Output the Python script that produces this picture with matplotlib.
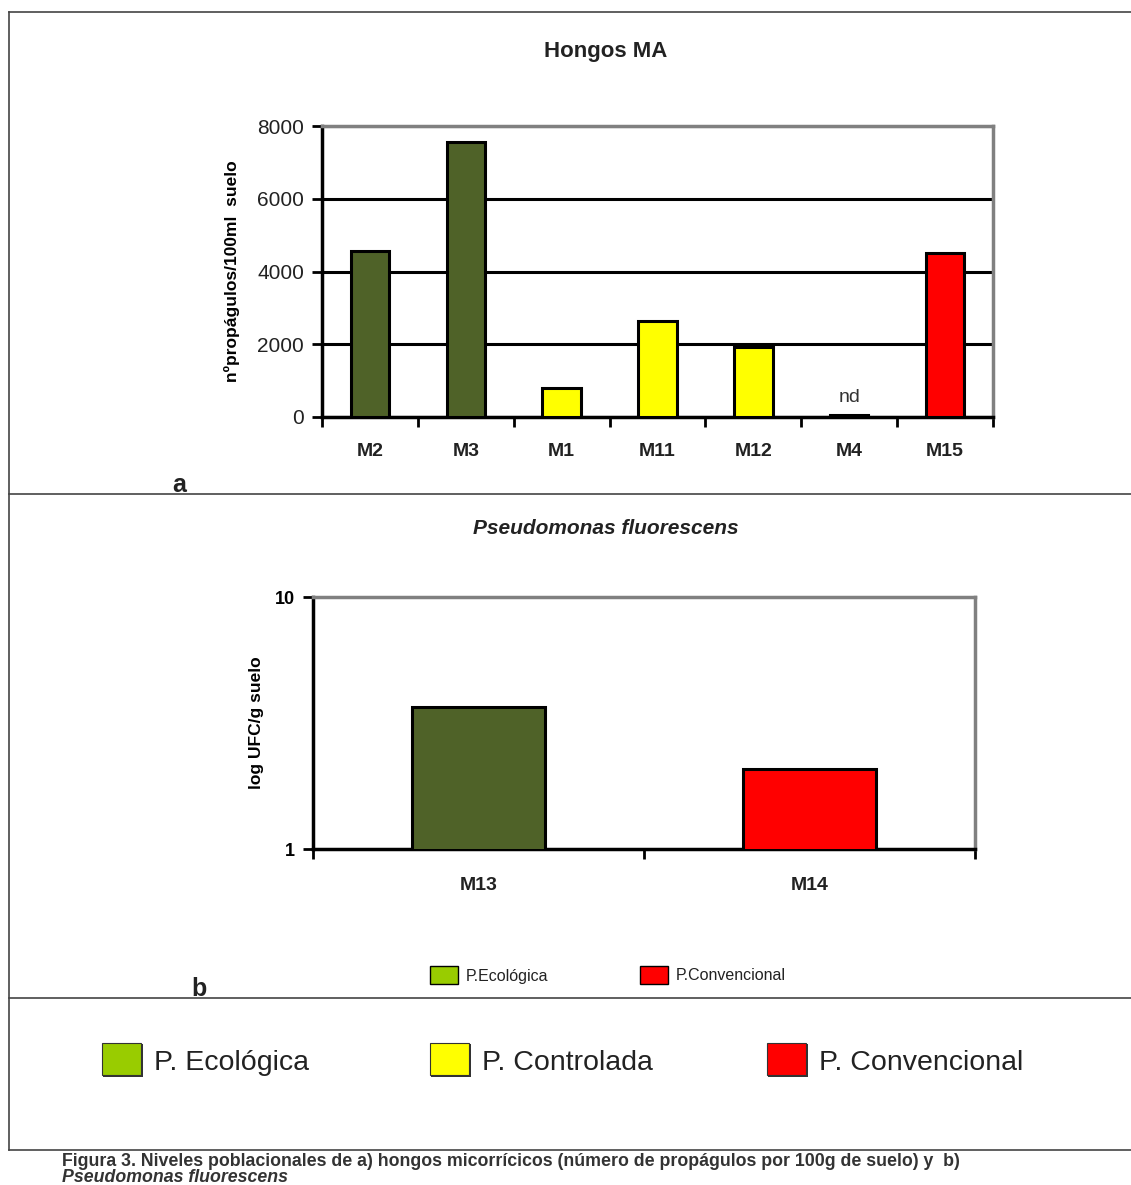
import numpy as np
import matplotlib.pyplot as plt
from matplotlib.lines import Line2D
from matplotlib.patches import Rectangle

# hongos MA, propágulos por 100 ml de suelo
muestras_a = ['M2', 'M3', 'M1', 'M11', 'M12', 'M4', 'M15']
propagulos = [4550, 7550, 800, 2650, 1920, 50, 4520]
manejo_a = ['eco', 'eco', 'ctrl', 'ctrl', 'ctrl', 'ctrl', 'conv']

# Pseudomonas fluorescens, log UFC/g suelo
muestras_b = ['M13', 'M14']
ufc = [3.66, 2.08]
manejo_b = ['eco', 'conv']

colores_barra = {'eco': '#4F6228', 'ctrl': '#FFFF00', 'conv': '#FF0000'}
colores_leyenda = {'eco': '#99CC00', 'ctrl': '#FFFF00', 'conv': '#FF0000'}

plt.rcParams['font.family'] = ['Liberation Sans', 'DejaVu Sans']

W, H = 1131, 1185
fig = plt.figure(figsize=(W / 100, H / 100), dpi=100)


def px_axes(x0, y0, x1, y1):
    return fig.add_axes([x0 / W, 1 - y1 / H, (x1 - x0) / W, (y1 - y0) / H])


def hline(y, x0=9, x1=W, c='#444444', lw=1.2):
    fig.add_artist(Line2D([x0 / W, x1 / W], [1 - y / H, 1 - y / H], color=c, lw=lw))


# marco de la figura
hline(12)
hline(494)
hline(998)
hline(1150)
fig.add_artist(Line2D([9 / W, 9 / W], [1 - 12 / H, 1 - 1150 / H], color='#444444', lw=1.2))

# ---- a) hongos MA ----
ax = px_axes(322, 126, 993, 417)
xa = np.arange(len(muestras_a))
ax.set_axisbelow(True)
ax.yaxis.grid(True, color='black', lw=2.2)
ax.bar(xa, propagulos, width=0.4, color=[colores_barra[m] for m in manejo_a],
       edgecolor='black', linewidth=2.2, zorder=3)
ax.set_xlim(-0.5, len(muestras_a) - 0.5)
ax.set_ylim(0, 8000)
ax.set_yticks([0, 2000, 4000, 6000, 8000])
ax.tick_params(axis='y', direction='out', length=7, width=2, labelsize=15, pad=6,
               labelcolor='#222222')
ax.set_xticks(xa)
ax.set_xticklabels(muestras_a, fontweight='bold', fontsize=14, color='#222222')
ax.tick_params(axis='x', length=0, pad=19)
ax.set_xticks(np.arange(-0.5, len(muestras_a)), minor=True)
ax.tick_params(axis='x', which='minor', direction='out', length=7, width=2)
for s in ['left', 'bottom']:
    ax.spines[s].set_linewidth(2.5)
for s in ['top', 'right']:
    ax.spines[s].set_color('#808080')
    ax.spines[s].set_linewidth(2.5)
ax.set_ylabel('nºpropágulos/100ml  suelo', fontweight='bold', fontsize=12.5, labelpad=12)
ax.text(5, propagulos[5] + 250, 'nd', ha='center', va='bottom', fontsize=14, color='#333333')
fig.text(606 / W, 1 - 52 / H, 'Hongos MA', ha='center', va='center', fontsize=16,
         fontweight='bold', color='#222222')
fig.text(179 / W, 1 - 485 / H, 'a', ha='center', va='center', fontsize=18,
         fontweight='bold', color='#222222')

# ---- b) Pseudomonas fluorescens ----
bx = px_axes(313, 597, 975, 849)
xb = np.arange(len(muestras_b))
bx.bar(xb, ufc, width=0.4, color=[colores_barra[m] for m in manejo_b],
       edgecolor='black', linewidth=2.2, zorder=3)
bx.set_yscale('log')
bx.set_ylim(1, 10)
bx.set_xlim(-0.5, len(muestras_b) - 0.5)
bx.set_yticks([1, 10])
bx.set_yticklabels(['1', '10'], fontweight='bold', fontsize=13)
bx.yaxis.set_minor_locator(plt.NullLocator())
bx.tick_params(axis='y', direction='out', length=7, width=2, pad=6)
bx.set_xticks(xb)
bx.set_xticklabels(muestras_b, fontweight='bold', fontsize=14, color='#222222')
bx.tick_params(axis='x', length=0, pad=20)
bx.set_xticks(np.arange(-0.5, len(muestras_b)), minor=True)
bx.tick_params(axis='x', which='minor', direction='out', length=7, width=2)
for s in ['left', 'bottom']:
    bx.spines[s].set_linewidth(2.5)
for s in ['top', 'right']:
    bx.spines[s].set_color('#808080')
    bx.spines[s].set_linewidth(2.5)
bx.set_ylabel('log UFC/g suelo', fontweight='bold', fontsize=12.5, labelpad=8)
fig.text(606 / W, 1 - 529 / H, 'Pseudomonas fluorescens', ha='center', va='center',
         fontsize=15, fontweight='bold', fontstyle='italic', color='#222222')
fig.text(199 / W, 1 - 989 / H, 'b', ha='center', va='center', fontsize=18,
         fontweight='bold', color='#222222')

# leyenda pequeña del gráfico b
for x0, m, txt in [(430, 'eco', 'P.Ecológica'), (640, 'conv', 'P.Convencional')]:
    fig.add_artist(Rectangle((x0 / W, 1 - 984 / H), 28 / W, 18 / H, facecolor=colores_leyenda[m],
                             edgecolor='black', lw=1, transform=fig.transFigure))
    fig.text((x0 + 36) / W, 1 - 976 / H, txt, ha='left', va='center', fontsize=11.5,
             color='#222222')

# leyenda general
for x0, m, txt in [(102, 'eco', 'P. Ecológica'), (430, 'ctrl', 'P. Controlada'),
                   (767, 'conv', 'P. Convencional')]:
    fig.add_artist(Rectangle(((x0 + 1) / W, 1 - 1077 / H), 40 / W, 33 / H, facecolor='#333333',
                             edgecolor='none', transform=fig.transFigure))
    fig.add_artist(Rectangle((x0 / W, 1 - 1075 / H), 39 / W, 32 / H, facecolor=colores_leyenda[m],
                             edgecolor='#333333', lw=0.8, transform=fig.transFigure))
    fig.text((x0 + 52) / W, 1 - 1063 / H, txt, ha='left', va='center', fontsize=20.5,
             color='#222222')

# pie de figura
fig.text(62 / W, 1 - 1161 / H,
         'Figura 3. Niveles poblacionales de a) hongos micorrícicos (número de propágulos '
         'por 100g de suelo) y  b)',
         ha='left', va='center', fontsize=12.8, fontweight='bold', color='#333333')
fig.text(62 / W, 1 - 1178 / H, 'Pseudomonas fluorescens', ha='left', va='center',
         fontsize=12.8, fontweight='bold', fontstyle='italic', color='#333333')

fig.savefig('out.png', dpi=100)
